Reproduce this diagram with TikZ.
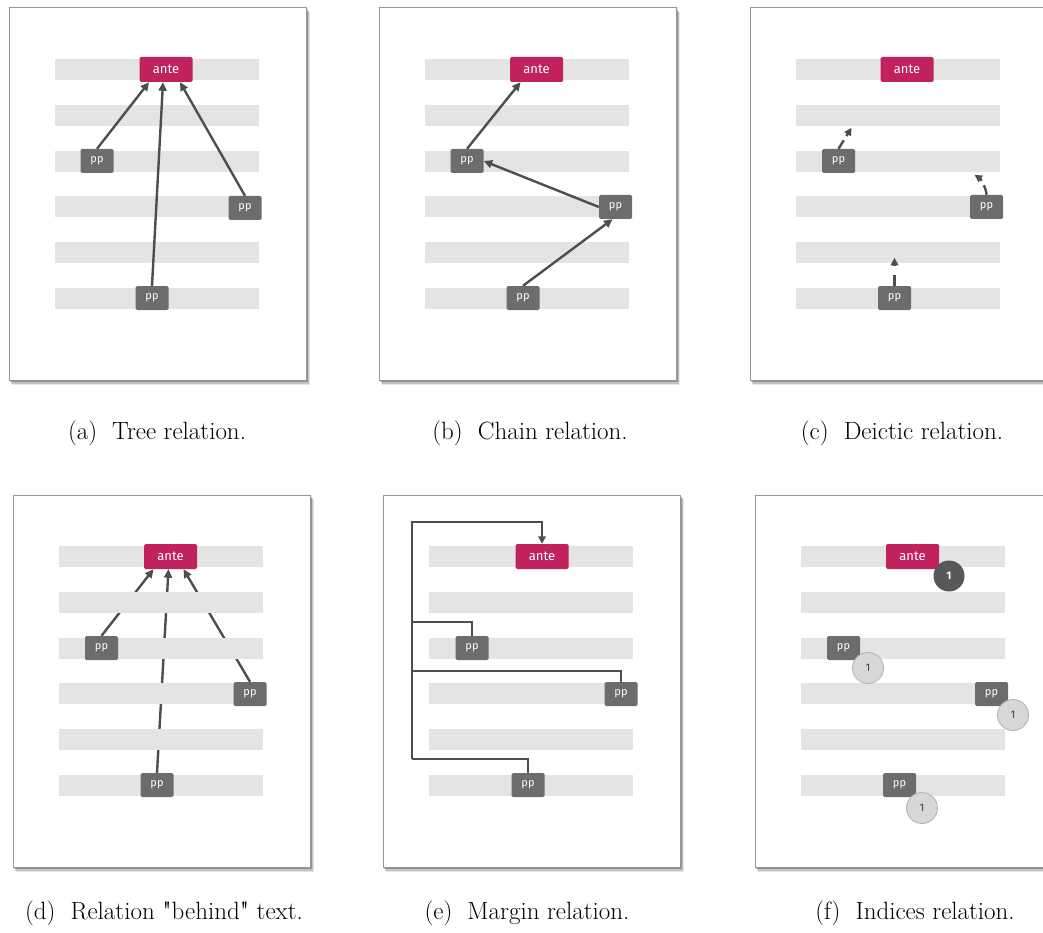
\documentclass[tikz,border=0pt]{standalone}
\usepackage{fontspec}
\newfontfamily\boxfont{Fira Sans}
\newfontfamily\quotefont{lmroman10-regular.otf}[Ligatures=ResetAll]
\usetikzlibrary{arrows.meta,calc}
\definecolor{antec}{RGB}{192,34,94}
\definecolor{ppc}{RGB}{108,108,108}
\definecolor{barc}{RGB}{228,228,228}
\definecolor{linec}{RGB}{78,78,78}
\definecolor{framec}{RGB}{150,150,150}
\definecolor{idxlightc}{RGB}{215,215,215}
\definecolor{idxdarkc}{RGB}{88,88,88}
\pgfdeclarelayer{back}
\pgfdeclarelayer{behind}
\pgfdeclarelayer{bars}
\pgfsetlayers{back,behind,bars,main}
\tikzset{
  antebox/.style={fill=antec, text=white, rounded corners=1.5pt, minimum width=53pt, minimum height=25pt, inner sep=0pt, font=\boxfont\fontsize{13}{15}\selectfont},
  ppbox/.style={fill=ppc, text=white, rounded corners=1.5pt, minimum width=33pt, minimum height=24pt, inner sep=0pt, font=\boxfont\fontsize{11}{13}\selectfont},
  rel/.style={draw=linec, line width=2.4pt, -{Triangle[length=8.5pt,width=8pt]}},
  deic/.style={draw=linec, line width=2.4pt, dash pattern=on 10pt off 5pt, -{Triangle[length=7.5pt,width=7.5pt]}},
  margl/.style={draw=linec, line width=2.6pt, line join=miter},
  marga/.style={margl, -{Triangle[length=7.5pt,width=7.5pt]}},
  idxdark/.style={circle, fill=idxdarkc, text=white, minimum size=31pt, inner sep=0pt, font=\boxfont\bfseries\fontsize{11}{13}\selectfont},
  idxlight/.style={circle, fill=idxlightc, draw=gray!60, line width=0.8pt, text=black!75, minimum size=31pt, inner sep=0pt, font=\boxfont\fontsize{11}{13}\selectfont},
  capt/.style={font=\fontsize{25}{29}\selectfont, inner sep=0pt}
}
\newcommand\panelbase{%
  \begin{pgfonlayer}{back}
    \fill[black,opacity=0.10] (3,4) rectangle (301,377);
    \fill[black,opacity=0.15] (2,3) rectangle (300,376);
    \fill[black,opacity=0.25] (1,1.5) rectangle (298.5,374);
    \draw[framec,line width=1pt,fill=white] (0,0) rectangle (297,372);
  \end{pgfonlayer}
  \begin{pgfonlayer}{bars}
    \foreach \k in {0,...,5}{\fill[barc] (46,{51+45.8*\k}) rectangle ++(204,21);}
  \end{pgfonlayer}}
\begin{document}
\begin{tikzpicture}[x=1pt,y=-1pt]
\begin{pgfonlayer}{back}
  \fill[white] (0,0) rectangle (1043,933);
\end{pgfonlayer}
\useasboundingbox (0,0) rectangle (1043,933);

% (a) Tree relation
\begin{scope}[shift={(9,8)}]
  \panelbase
  \node[antebox] (aA) at (157,61.5) {ante};
  \node[ppbox] (aP1) at (88,153) {pp};
  \node[ppbox] (aP2) at (236,200) {pp};
  \node[ppbox] (aP3) at (143,290) {pp};
  \draw[rel] (aP1.north) -- ([xshift=-17pt]aA.south);
  \draw[rel] (aP3.north) -- ([xshift=-3pt]aA.south);
  \draw[rel] (aP2.north) -- ([xshift=14pt]aA.south);
\end{scope}

% (b) Chain relation
\begin{scope}[shift={(379,8)}]
  \panelbase
  \node[antebox] (bA) at (157.5,61.5) {ante};
  \node[ppbox] (bP1) at (88,153) {pp};
  \node[ppbox] (bP2) at (236.5,199) {pp};
  \node[ppbox] (bP3) at (144,290) {pp};
  \draw[rel] (bP1.north) -- ([xshift=-16pt]bA.south);
  \draw[rel] (bP2.west) -- (bP1.east);
  \draw[rel] (bP3.north) -- ([xshift=-3pt]bP2.south);
\end{scope}

% (c) Deictic relation
\begin{scope}[shift={(750,8)}]
  \panelbase
  \node[antebox] (cA) at (157,61.5) {ante};
  \node[ppbox] (cP1) at (88.5,153) {pp};
  \node[ppbox] (cP2) at (236.5,199) {pp};
  \node[ppbox] (cP3) at (144.5,290) {pp};
  \draw[deic] (cP1.north) -- ++(13,-21);
  \draw[deic] (cP2.north) .. controls +(0,-6) and +(6,4) .. ++(-12,-20);
  \draw[deic, dash pattern=on 11pt off 9pt] (cP3.north) -- ++(0,-28);
\end{scope}

% (d) Relation behind text
\begin{scope}[shift={(13,495)}]
  \panelbase
  \node[antebox] (dA) at (157.5,61.5) {ante};
  \node[ppbox] (dP1) at (88.5,153) {pp};
  \node[ppbox] (dP2) at (237,199) {pp};
  \node[ppbox] (dP3) at (144,290) {pp};
  \begin{pgfonlayer}{behind}
    \draw[rel] (dP1.north) -- ([xshift=-17pt]dA.south);
    \draw[rel] (dP3.north) -- ([xshift=-2pt]dA.south);
    \draw[rel] (dP2.north) -- ([xshift=13pt]dA.south);
  \end{pgfonlayer}
\end{scope}

% (e) Margin relation
\begin{scope}[shift={(383,495)}]
  \panelbase
  \node[antebox] (eA) at (159,61.5) {ante};
  \node[ppbox] (eP1) at (89,153) {pp};
  \node[ppbox] (eP2) at (238,199) {pp};
  \node[ppbox] (eP3) at (145,290) {pp};
  \coordinate (eT) at (29,27);
  \coordinate (eB) at (29,264);
  \coordinate (eM1) at (29,127);
  \coordinate (eM2) at (29,176);
  \draw[marga] (eB) -- (eT) -| (eA.north);
  \draw[margl] (eP1.north) |- (eM1);
  \draw[margl] (eP2.north) |- (eM2);
  \draw[margl] (eP3.north) |- (eB);
\end{scope}

% (f) Indices relation
\begin{scope}[shift={(755,495)}]
  \panelbase
  \node[antebox] (fA) at (157.5,61.5) {ante};
  \node[ppbox] (fP1) at (88.5,153) {pp};
  \node[ppbox] (fP2) at (236.5,199) {pp};
  \node[ppbox] (fP3) at (144.5,290) {pp};
  \node[idxdark] (fI0) at (194,81) {1};
  \node[idxlight] (fI1) at (113,173) {1};
  \node[idxlight] (fI2) at (258,220) {1};
  \node[idxlight] (fI3) at (167,313) {1};
\end{scope}

% captions
\node[capt] (capA) at (157,433) {(a)\hspace{.3em} Tree relation.};
\node[capt] (capB) at (530,433) {(b)\hspace{.3em} Chain relation.};
\node[capt] (capC) at (902,433) {(c)\hspace{.3em} Deictic relation.};
\node[capt] (capD) at (164,913) {(d)\hspace{.3em} Relation {\quotefont"}behind{\quotefont"} text.};
\node[capt] (capE) at (527,913) {(e)\hspace{.3em} Margin relation.};
\node[capt] (capF) at (915,913) {(f)\hspace{.3em} Indices relation.};
\end{tikzpicture}
\end{document}
